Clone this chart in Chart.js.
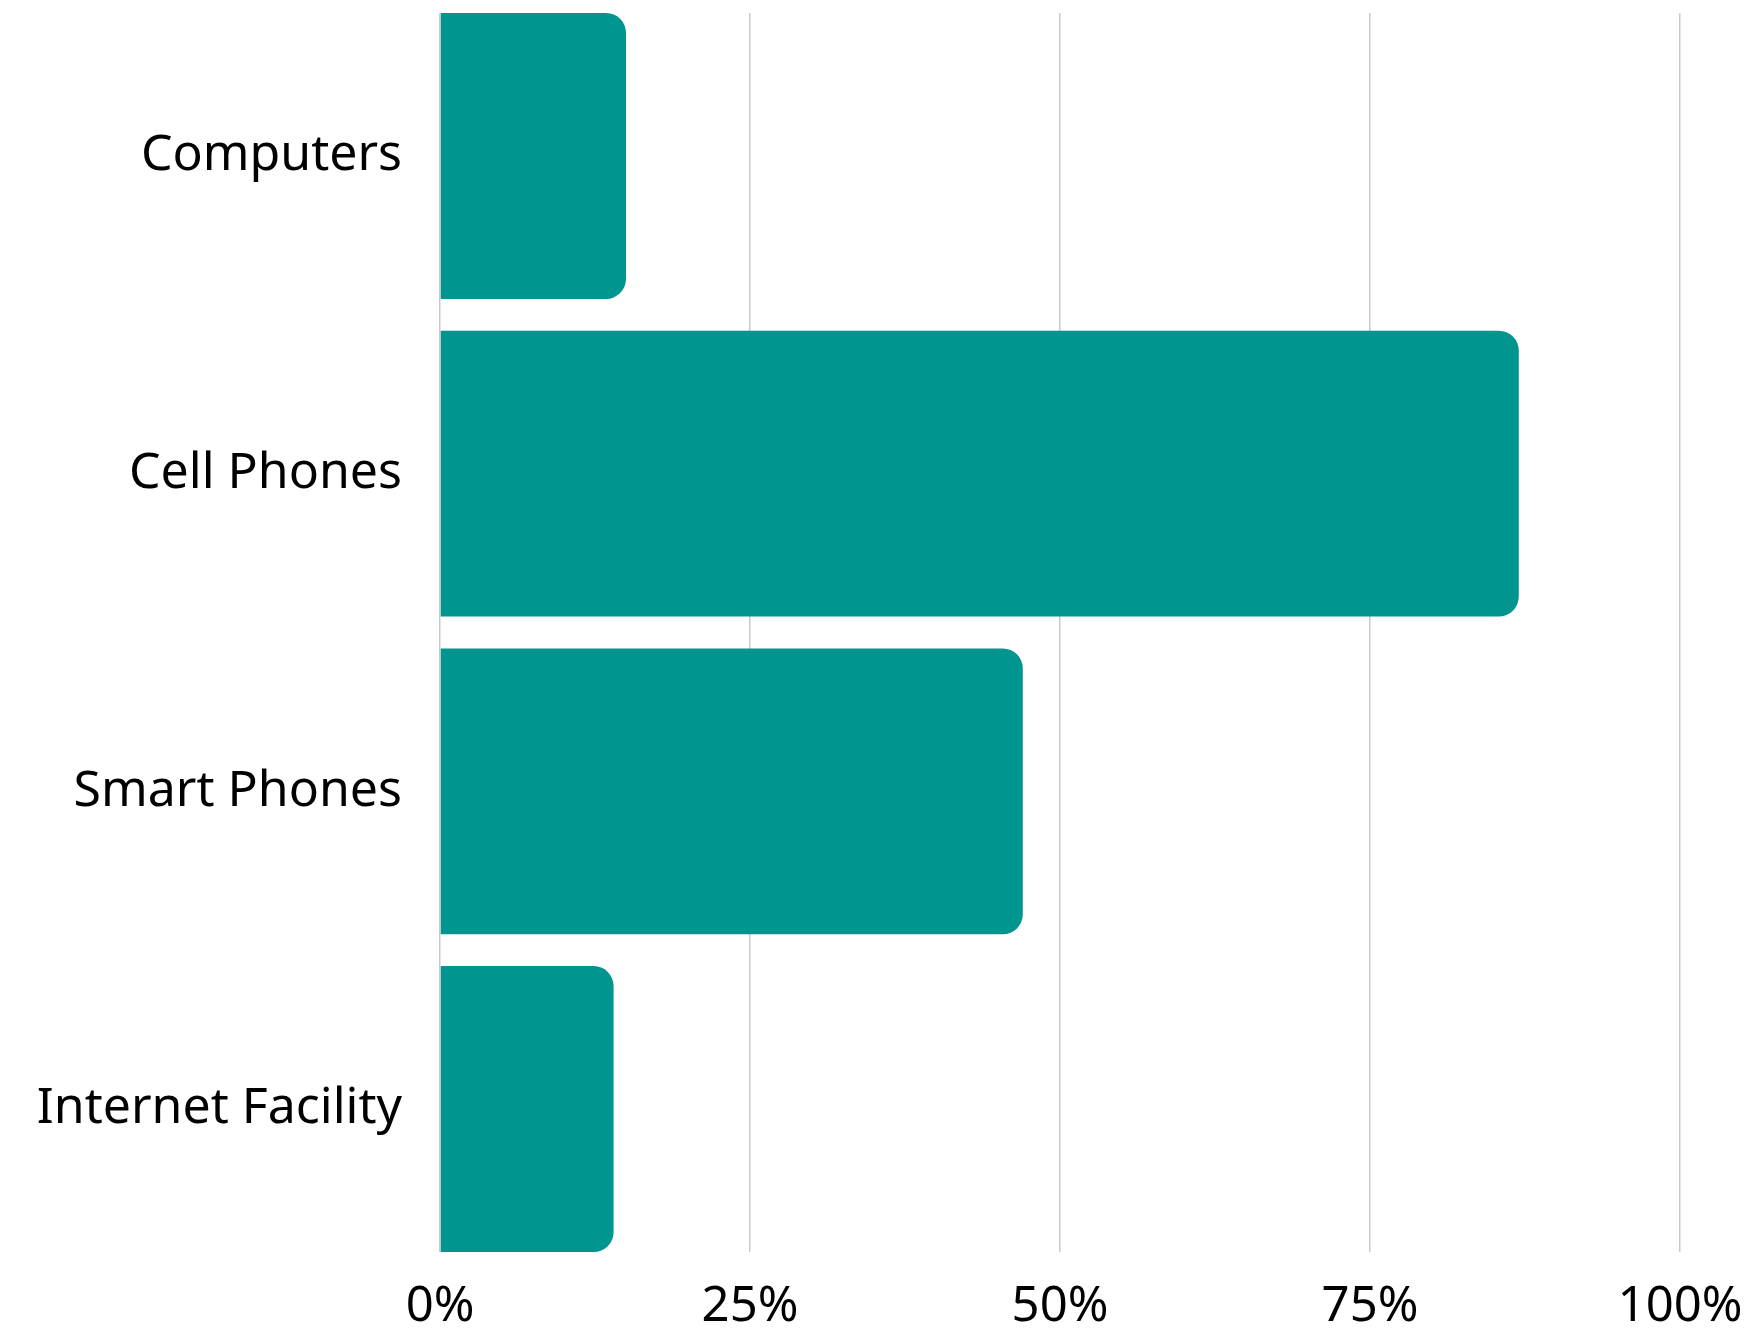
<!DOCTYPE html>
<html>
<head>
<meta charset="utf-8">
<title>Device access</title>
<script src="https://cdn.jsdelivr.net/npm/chart.js@4/dist/chart.umd.min.js"></script>
<style>
  html, body { margin: 0; padding: 0; background: #ffffff; }
  #wrap { width: 1756px; height: 1329px; }
</style>
</head>
<body>
<div id="wrap"><canvas id="chart" width="1756" height="1329"></canvas></div>
<script>
// Share of respondents with access to each item (percent)
const categories = ['Computers', 'Cell Phones', 'Smart Phones', 'Internet Facility'];
const shares = [15, 87, 47, 14];
const xTicks = [0, 25, 50, 75, 100];

const TEAL = '#01958F';
const GRID = '#c9c9c9';
const FONT = '"Noto Sans", sans-serif';

// Bars sit flush with the top and bottom of the plot, so the index axis is
// a linear one that stops just past the outer bar edges.
const EDGE = 0.45;
const points = shares.map((v, i) => ({ x: v, y: i }));

const ctx = document.getElementById('chart').getContext('2d');
new Chart(ctx, {
    type: 'bar',
    data: {
        datasets: [{
            data: points,
            backgroundColor: TEAL,
            borderWidth: 0,
            borderRadius: 20,
            borderSkipped: 'start',
            barPercentage: 1,
            categoryPercentage: 0.9
        }]
    },
    options: {
        indexAxis: 'y',
        responsive: false,
        animation: false,
        layout: {
            autoPadding: false,
            padding: { top: 13, right: 76, left: 0, bottom: 0 }
        },
        plugins: {
            legend: { display: false },
            tooltip: { enabled: false }
        },
        scales: {
            x: {
                type: 'linear',
                min: 0,
                max: 100,
                afterBuildTicks: axis => {
                    axis.ticks = xTicks.map(v => ({ value: v }));
                },
                // fixed axis band, no extra room for the end labels
                afterFit: axis => {
                    axis.height = 77;
                    axis.paddingLeft = 0;
                    axis.paddingRight = 0;
                },
                grid: { color: GRID, lineWidth: 1.5, drawTicks: false },
                border: { display: false },
                ticks: {
                    padding: 26,
                    color: '#000000',
                    font: { family: FONT, size: 49 },
                    callback: v => v + '%'
                }
            },
            y: {
                type: 'linear',
                reverse: true,
                offset: false,
                bounds: 'data',
                min: -EDGE,
                max: categories.length - 1 + EDGE,
                afterBuildTicks: axis => {
                    axis.ticks = categories.map((c, i) => ({ value: i }));
                },
                afterFit: axis => {
                    axis.width = 440;
                    axis.paddingTop = 0;
                    axis.paddingBottom = 0;
                },
                grid: { display: false, drawTicks: false, offset: false },
                border: { display: false },
                ticks: {
                    padding: 38,
                    color: '#000000',
                    font: { family: FONT, size: 50 },
                    callback: v => categories[v]
                }
            }
        }
    }
});
</script>
</body>
</html>
